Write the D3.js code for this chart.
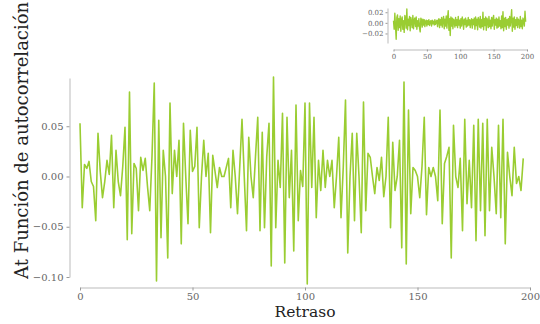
<!DOCTYPE html>
<html><head><meta charset="utf-8">
<script src="https://cdn.jsdelivr.net/npm/d3@7"></script>
<style>
html,body{margin:0;padding:0;background:#fff;}
svg{display:block;font-family:"DejaVu Serif",serif;}
</style></head>
<body><svg id="c" width="540" height="324"></svg>
<script>
// Main ACF values, lags 0..197
const acfMain = [
 0.053,-0.031,0.012,0.008,0.015,-0.005,-0.010,-0.044,0.043,0.005,
 -0.021,-0.005,0.016,0.002,0.041,-0.031,0.026,-0.005,-0.019,0.010,
 0.049,-0.063,0.084,-0.057,0.013,0.008,-0.034,0.019,0.006,0.018,
 -0.010,-0.034,0.020,0.093,-0.104,0.056,-0.061,0.026,0.000,-0.081,
 0.073,-0.017,0.026,0.000,0.036,-0.067,0.053,0.000,-0.047,0.046,
 0.005,0.010,0.049,-0.051,0.000,0.036,0.000,0.023,-0.056,0.021,
 0.005,-0.011,0.009,0.000,0.000,0.009,0.018,-0.031,0.026,0.000,
 -0.037,0.010,0.057,0.000,-0.054,0.039,0.000,-0.021,0.020,0.059,
 -0.054,0.044,-0.051,0.020,0.053,-0.089,0.099,-0.051,0.016,-0.011,
 0.063,-0.086,0.059,-0.021,0.026,-0.074,0.071,-0.044,0.006,-0.010,
 0.073,-0.107,0.073,-0.011,0.059,-0.041,0.016,-0.014,0.026,-0.011,
 0.016,0.000,0.016,-0.031,0.000,0.039,-0.041,0.009,0.076,-0.076,
 0.000,0.043,-0.044,0.043,0.000,-0.056,0.074,-0.034,0.023,0.019,
 0.000,-0.017,0.009,-0.004,0.019,-0.020,0.000,0.059,-0.051,0.034,
 -0.014,0.000,0.036,-0.071,0.094,-0.087,0.066,-0.037,0.009,0.006,
 0.000,-0.021,0.010,0.059,-0.038,0.009,0.000,0.009,0.000,-0.024,
 0.066,-0.047,0.013,0.020,0.029,-0.081,0.051,0.000,-0.011,0.018,
 -0.054,0.057,-0.027,0.016,-0.031,0.051,-0.064,0.057,-0.034,0.053,
 -0.059,0.057,-0.034,0.029,0.000,-0.037,0.051,-0.041,0.057,-0.067,
 0.024,0.000,-0.019,0.029,-0.007,0.000,-0.014,0.018
];
// Inset values, lags 0..198
const acfInset = [
 0.004,-0.012,0.018,-0.006,-0.031,0.010,0.015,-0.014,0.008,-0.009,
 0.013,-0.016,0.006,0.011,-0.012,0.004,-0.018,0.014,0.009,-0.010,
 0.026,-0.013,0.007,-0.005,0.012,-0.015,0.010,0.003,-0.009,0.014,
 -0.011,0.006,0.009,-0.007,0.011,-0.012,0.004,-0.006,0.008,-0.010,
 -0.017,0.009,0.005,-0.008,0.007,-0.004,0.006,-0.007,0.003,0.005,
 -0.006,0.004,-0.003,0.006,-0.005,0.002,0.004,-0.006,0.005,-0.002,
 0.003,-0.004,0.006,-0.003,0.002,0.005,-0.007,0.004,0.008,-0.009,
 0.006,-0.004,0.010,-0.008,0.005,0.012,-0.011,0.007,-0.006,0.013,
 -0.010,0.009,0.023,-0.014,0.008,-0.024,0.011,-0.006,0.009,-0.011,
 0.007,0.004,-0.008,0.010,-0.005,0.006,-0.009,0.012,-0.004,0.005,
 -0.010,0.008,-0.006,0.011,0.003,-0.012,0.007,-0.003,0.009,-0.008,
 0.005,-0.006,0.010,-0.004,0.006,-0.009,0.004,0.008,-0.010,0.006,
 -0.003,0.009,-0.012,0.011,-0.005,0.007,-0.013,0.010,0.004,-0.008,
 0.012,-0.010,0.006,-0.007,0.020,-0.013,0.008,-0.005,0.011,-0.014,
 0.009,0.003,-0.009,0.012,-0.007,0.005,-0.011,0.010,-0.006,0.008,
 0.014,-0.012,0.006,-0.004,0.009,-0.010,0.007,-0.008,0.011,-0.006,
 0.004,-0.011,0.013,-0.009,0.021,-0.015,0.009,-0.007,0.010,-0.012,
 0.006,-0.004,0.008,-0.010,0.012,-0.006,0.007,0.025,-0.016,0.009,
 -0.008,0.011,-0.012,0.006,-0.005,0.010,-0.009,0.007,0.004,-0.010,
 0.012,-0.007,0.005,-0.011,0.009,0.003,-0.006,0.022,0.002
];
const mainYTicks = [-0.10, -0.05, 0.00, 0.05];
const mainXTicks = [0, 50, 100, 150, 200];
const insetYTicks = [-0.02, 0.00, 0.02];
const insetXTicks = [0, 50, 100, 150, 200];
const xLabel = "Retraso";
const yLabel = "At Función de autocorrelación";

const svg = d3.select("#c");
const lineColor = "#9acd32";
const spine = "#bbbbbb";
const tickText = "#666";

function styleAxis(g, fs){
  g.select(".domain").attr("stroke", spine).attr("stroke-width", 1);
  g.selectAll(".tick line").attr("stroke", "#999");
  g.selectAll(".tick text").attr("fill", tickText).attr("font-size", fs).attr("font-family", "DejaVu Serif, serif");
}

// main chart
const x = d3.scaleLinear().domain([0, 200]).range([80, 530]);
const y = d3.scaleLinear().domain([-0.10, 0.098]).range([277, 78]);

const gy = svg.append("g").attr("transform", "translate(69.5,0)")
  .call(d3.axisLeft(y).tickValues(mainYTicks).tickFormat(d3.format(".2f")).tickSizeInner(3).tickSizeOuter(0).tickPadding(3));
styleAxis(gy, 10);
const gx = svg.append("g").attr("transform", "translate(0,287.5)")
  .call(d3.axisBottom(x).tickValues(mainXTicks).tickFormat(d3.format("d")).tickSizeInner(3).tickSizeOuter(0).tickPadding(2));
styleAxis(gx, 10);

svg.append("path")
  .datum(acfMain)
  .attr("fill", "none")
  .attr("stroke", lineColor)
  .attr("stroke-width", 1.6)
  .attr("stroke-linejoin", "round")
  .attr("d", d3.line().x((d, i) => x(i)).y(d => y(d)));

svg.append("text").attr("x", 305).attr("y", 317).attr("text-anchor", "middle")
  .attr("font-size", 15.5).attr("fill", "#222").text(xLabel);
svg.append("text").attr("transform", "translate(28,279) rotate(-90)")
  .attr("text-anchor", "start").attr("font-size", 18).attr("fill", "#222").text(yLabel);

// inset
const xi = d3.scaleLinear().domain([0, 200]).range([393.5, 527]);
const yi = d3.scaleLinear().domain([-0.038, 0.028]).range([43, 8]);
const giy = svg.append("g").attr("transform", "translate(387.5,0)")
  .call(d3.axisLeft(yi).tickValues(insetYTicks).tickFormat(d3.format(".2f")).tickSizeInner(2).tickSizeOuter(0).tickPadding(2));
styleAxis(giy, 7);
const gix = svg.append("g").attr("transform", "translate(0,49.5)")
  .call(d3.axisBottom(xi).tickValues(insetXTicks).tickFormat(d3.format("d")).tickSizeInner(2).tickSizeOuter(0).tickPadding(3));
styleAxis(gix, 7);
svg.append("path")
  .datum(acfInset)
  .attr("fill", "none")
  .attr("stroke", lineColor)
  .attr("stroke-width", 1.4)
  .attr("stroke-linejoin", "round")
  .attr("d", d3.line().x((d, i) => xi(i)).y(d => yi(d)));
</script></body></html>
